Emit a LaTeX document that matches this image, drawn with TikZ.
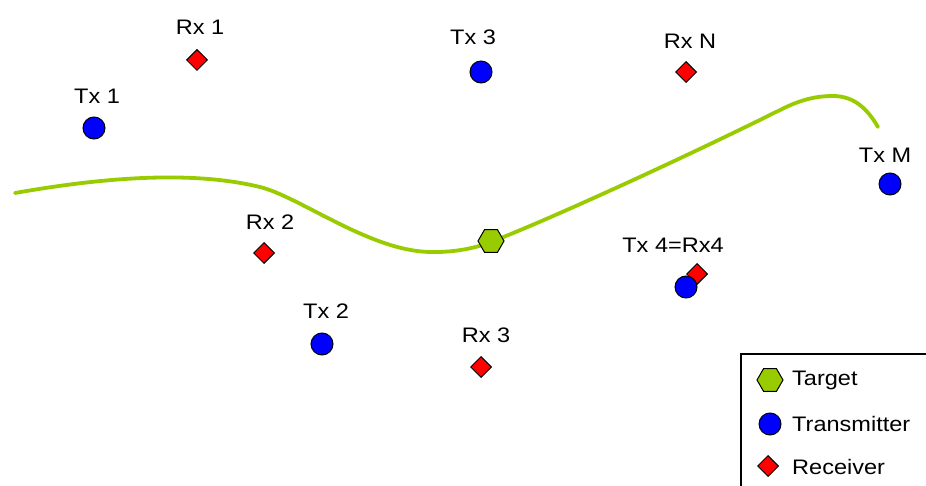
\documentclass[tikz,border=0pt]{standalone}
\usepackage{fontspec}
\setmainfont{Liberation Sans}
\newfontfamily\lblfont[FakeStretch=1.12]{Liberation Sans}
\usetikzlibrary{shapes.geometric}
\definecolor{tgreen}{HTML}{99CC00}
\definecolor{tblue}{HTML}{0000FF}
\definecolor{tred}{HTML}{FF0000}
\tikzset{
  tx/.style={circle, draw=black, fill=tblue, line width=1pt, minimum size=22pt, inner sep=0pt},
  rx/.style={diamond, draw=black, fill=tred, line width=1pt, minimum size=21pt, inner sep=0pt},
  tgt/.style={regular polygon, regular polygon sides=6, draw=black, fill=tgreen, line width=1pt, minimum size=26pt, inner sep=0pt},
  lbl/.style={font=\lblfont\fontsize{21}{24}\selectfont, inner sep=0pt},
  legtxt/.style={font=\lblfont\fontsize{21}{24}\selectfont, inner sep=0pt, anchor=west},
}
\begin{document}
\begin{tikzpicture}[x=1pt,y=-1pt]
\useasboundingbox (0,0) rectangle (926,486);
% trajectory
\draw[tgreen, line width=3.8pt, line cap=round]
 (15,193) .. controls (100,178) and (190,170) .. (260,187)
 .. controls (300,197) and (370,251) .. (430,252)
 .. controls (450,252.5) and (472,249.5) .. (491,242)
 .. controls (560,215) and (700,150) .. (780,110)
 .. controls (800,100) and (815,96) .. (833,96)
 .. controls (855,96) and (868,110) .. (878,127);
% transmitters
\node[tx] (tx1) at (94,128) {};
\node[lbl] (ltx1) at (97,96) {Tx 1};
\node[tx] (tx3) at (481,72) {};
\node[lbl] (ltx3) at (473,37) {Tx 3};
\node[tx] (txm) at (890,184) {};
\node[lbl] (ltxm) at (885,155) {Tx M};
\node[tx] (tx2) at (322,344) {};
\node[lbl] (ltx2) at (326,311) {Tx 2};
% receivers
\node[rx] (rx1) at (197,60) {};
\node[lbl] (lrx1) at (200,27) {Rx 1};
\node[rx] (rxn) at (686,72) {};
\node[lbl] (lrxn) at (690,41) {Rx N};
\node[rx] (rx2) at (264,253) {};
\node[lbl] (lrx2) at (270,222) {Rx 2};
\node[rx] (rx3) at (481,367) {};
\node[lbl] (lrx3) at (486,335) {Rx 3};
% combined Tx4 = Rx4
\node[rx] (rx4) at (697,274) {};
\node[tx] (tx4) at (686,287) {};
\node[lbl] (ltx4) at (673,245) {Tx 4=Rx4};
% target
\node[tgt] (target) at (491,241) {};
% legend
\begin{scope}
\clip (0,0) rectangle (926,486);
\draw[line width=1.2pt, fill=white] (741,354) rectangle (935,495);
\end{scope}
\node[tgt] (lgt) at (770,380) {};
\node[legtxt] (lgtt) at (792,380) {Target};
\node[tx] (lgtx) at (770,424) {};
\node[legtxt] (lgtxt) at (792,424) {Transmitter};
\node[rx] (lgrx) at (768,466) {};
\node[legtxt] (lgrxt) at (792,467) {Receiver};
\end{tikzpicture}
\end{document}
